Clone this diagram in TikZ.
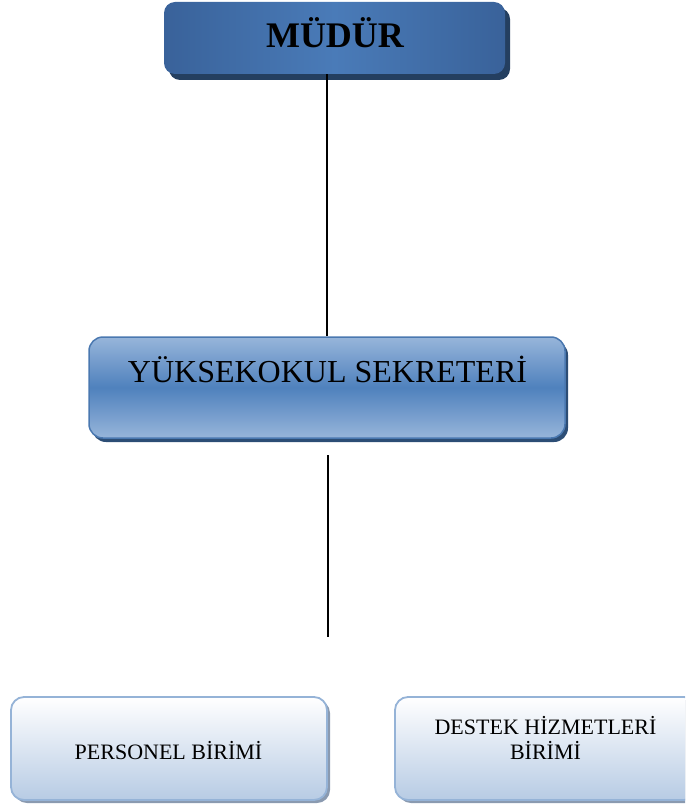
\documentclass[tikz,border=0pt]{standalone}
\usepackage{fontspec}
\setmainfont{Liberation Serif}
\usetikzlibrary{shadows}
\definecolor{topdark}{HTML}{39629A}
\definecolor{topmid}{HTML}{4A7BB8}
\definecolor{topshadow}{HTML}{243F60}
\definecolor{midlight}{HTML}{97B5DA}
\definecolor{midmain}{HTML}{4F81BD}
\definecolor{midborder}{HTML}{4A78B0}
\definecolor{midshadow}{HTML}{2C4D75}
\definecolor{lowtop}{HTML}{FFFFFF}
\definecolor{lowbottom}{HTML}{B7CBE4}
\definecolor{lowborder}{HTML}{95B3D7}
\definecolor{lowshadow}{HTML}{8A9AB0}
\tikzset{
  mudurbox/.style={rectangle, rounded corners=11pt, inner sep=0pt,
    minimum width=341pt, minimum height=72pt,
    left color=topdark, right color=topdark, middle color=topmid,
    draw=none,
    drop shadow={shadow xshift=5pt, shadow yshift=-6pt, fill=topshadow, opacity=1}},
  sekbox/.style={rectangle, rounded corners=14pt, inner sep=0pt,
    minimum width=476pt, minimum height=101pt,
    top color=midlight, bottom color=midlight, middle color=midmain,
    draw=midborder, line width=1.5pt,
    drop shadow={shadow xshift=3pt, shadow yshift=-4pt, fill=midshadow, opacity=1}},
  unitbox/.style={rectangle, rounded corners=13pt, inner sep=0pt,
    minimum width=316pt, minimum height=103pt,
    top color=lowtop, bottom color=lowbottom,
    draw=lowborder, line width=1.8pt,
    drop shadow={shadow xshift=3pt, shadow yshift=-3pt, fill=lowshadow, opacity=1}},
  boxtext/.style={anchor=base, inner sep=0pt, text=black, align=center},
  link/.style={draw=black, line width=1.6pt}
}
\begin{document}
\begin{tikzpicture}[x=1pt, y=-1pt]
\useasboundingbox (0,0) rectangle (685,805);
\clip (0,0) rectangle (685,805);
% boxes
\node[mudurbox] (mudur) at (334.5,38) {};
\node[sekbox] (sekreter) at (327,387.5) {};
\node[unitbox] (personel) at (169,748.5) {};
\node[unitbox, minimum width=302pt] (destek) at (546,748.5) {};
% texts
\node[boxtext, font=\fontsize{36}{40}\selectfont\bfseries] (mudurtxt) at (335,48) {MÜDÜR};
\node[boxtext, font=\fontsize{32}{36}\selectfont] (sektxt) at (327.5,382) {YÜKSEKOKUL SEKRETERİ};
\node[boxtext, font=\fontsize{22}{25}\selectfont] (perstxt) at (168.5,759) {PERSONEL BİRİMİ};
\node[boxtext, font=\fontsize{22}{25}\selectfont] (destxt1) at (545.5,734) {DESTEK HİZMETLERİ};
\node[boxtext, font=\fontsize{22}{25}\selectfont] (destxt2) at (545.5,759) {BİRİMİ};
% connectors
\coordinate (lowA) at (328,455);
\coordinate (lowB) at (328,637);
\draw[link] (sekreter.north |- mudur.south) -- (sekreter.north);
\draw[link] (lowA) -- (lowB);
\end{tikzpicture}
\end{document}
